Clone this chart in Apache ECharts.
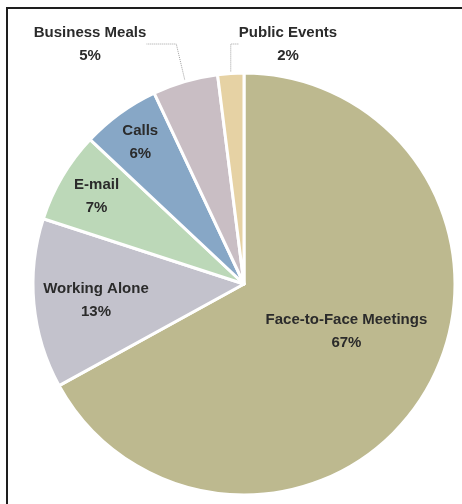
<!DOCTYPE html>
<html>
<head>
<meta charset="utf-8">
<script src="https://cdn.jsdelivr.net/npm/echarts@6/dist/echarts.min.js"></script>
<style>
  html, body { margin: 0; padding: 0; background: #fff; }
  #chart { position: absolute; left: 0; top: 0; width: 462px; height: 504px; }
  #frame { position: absolute; left: 6px; top: 7px; width: 470px; height: 520px;
           border-left: 2px solid #1e1e1e; border-top: 2px solid #1e1e1e; pointer-events: none; }
</style>
</head>
<body>
<div id="chart"></div>
<div id="frame"></div>
<script>
const categories = ['Face-to-Face Meetings', 'Working Alone', 'E-mail', 'Calls', 'Business Meals', 'Public Events'];
const percentValues = [67, 13, 7, 6, 5, 2];
const sliceColors = ['#bdb98f', '#c3c2cc', '#bcd8b8', '#87a7c6', '#c9bec4', '#e6d2a4'];

// label placement (styling only)
const insideShift = { 0: [9, -8], 1: [-40, 6], 2: [-54, -32], 3: [-40, -54] };
const outsidePos = { 4: [90, 44], 5: [288, 44] };

const data = categories.map((name, i) => ({
  name: name,
  value: percentValues[i],
  itemStyle: { color: sliceColors[i] },
  label: i >= 4 ? { position: 'outside', overflow: 'none' } : { position: 'inside' },
  labelLine: { show: i >= 4 }
}));

const chart = echarts.init(document.getElementById('chart'), null, { renderer: 'canvas' });
chart.setOption({
  backgroundColor: '#ffffff',
  animation: false,
  series: [{
    type: 'pie',
    center: [244, 284],
    radius: [0, 211],
    startAngle: 90,
    clockwise: true,
    data: data,
    itemStyle: { borderColor: '#ffffff', borderWidth: 3 },
    label: {
      show: true,
      formatter: p => p.name + '\n' + p.value + '%',
      fontFamily: "'Liberation Sans', Arial, sans-serif",
      fontWeight: 'bold',
      fontSize: 15,
      lineHeight: 23,
      color: '#2b2b2b',
      align: 'center',
      overflow: 'none'
    },
    labelLine: {
      show: true,
      lineStyle: { color: '#a0a0a0', width: 1, type: 'dotted' }
    },
    labelLayout: function (params) {
      const i = params.dataIndex;
      if (outsidePos[i]) {
        return { x: outsidePos[i][0], y: outsidePos[i][1], align: 'center', verticalAlign: 'middle' };
      }
      const s = insideShift[i] || [0, 0];
      return { dx: s[0], dy: s[1] };
    }
  }]
});
</script>
</body>
</html>
